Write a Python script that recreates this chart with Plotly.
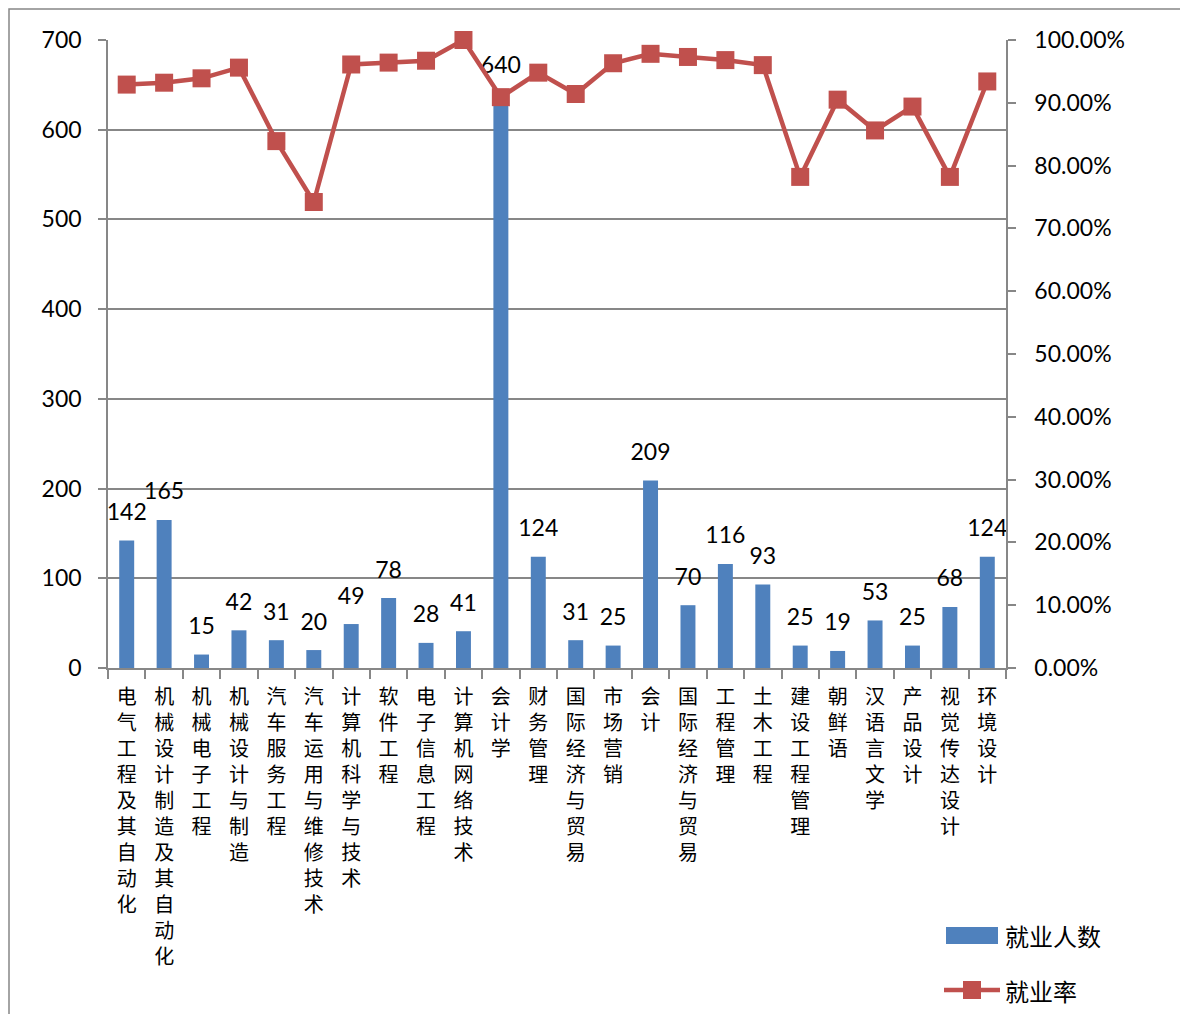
import plotly.graph_objects as go

categories = ["电气工程及其自动化", "机械设计制造及其自动化", "机械电子工程", "机械设计与制造",
              "汽车服务工程", "汽车运用与维修技术", "计算机科学与技术", "软件工程", "电子信息工程",
              "计算机网络技术", "会计学", "财务管理", "国际经济与贸易", "市场营销", "会计",
              "国际经济与贸易", "工程管理", "土木工程", "建设工程管理", "朝鲜语", "汉语言文学",
              "产品设计", "视觉传达设计", "环境设计"]
employed = [142, 165, 15, 42, 31, 20, 49, 78, 28, 41, 640, 124, 31, 25, 209, 70, 116, 93, 25, 19, 53, 25, 68, 124]
rate = [0.929, 0.932, 0.939, 0.956, 0.839, 0.742, 0.961, 0.964, 0.967, 1.000, 0.909, 0.948,
        0.914, 0.963, 0.978, 0.973, 0.968, 0.960, 0.782, 0.905, 0.856, 0.894, 0.782, 0.934]
left_ticks = [0, 100, 200, 300, 400, 500, 600, 700]
right_ticks = [0.0, 0.1, 0.2, 0.3, 0.4, 0.5, 0.6, 0.7, 0.8, 0.9, 1.0]
series_names = ["就业人数", "就业率"]

xpos = list(range(len(categories)))
ticktext = ["<br>".join(list(c)) for c in categories]

BLUE = "#4F81BD"
RED = "#C0504D"
GRAY = "#878787"
NUMFONT = "Lato, Noto Sans, sans-serif"
CJK = "Noto Sans CJK SC"

# plot area in page pixels: x 108..1006, y 40..668 (page has 8px body offset)
PX0, PX1, PY0, PY1 = 108, 1006, 40, 668


def px(x):
    return (x - PX0) / (PX1 - PX0)


def py(y):
    return (PY1 - y) / (PY1 - PY0)


fig = go.Figure()
fig.add_trace(go.Bar(
    x=xpos, y=employed, name=series_names[0], marker=dict(color=BLUE, line=dict(width=0)),
    width=0.4, showlegend=False,
))
fig.add_trace(go.Scatter(
    x=xpos, y=rate, name=series_names[1], yaxis="y2", mode="lines+markers",
    line=dict(color=RED, width=4.5), marker=dict(symbol="square", size=18, color=RED),
    cliponaxis=False, showlegend=False,
))
fig.add_trace(go.Scatter(
    x=xpos, y=employed, mode="markers+text", text=[str(v) for v in employed],
    textposition="top center", marker=dict(size=22, color="rgba(0,0,0,0)"),
    textfont=dict(family=NUMFONT, size=23, color="#000"), cliponaxis=False, showlegend=False,
    hoverinfo="skip",
))

shapes = [
    dict(type="rect", xref="paper", yref="paper", x0=px(9), y0=py(1030), x1=px(1200), y1=py(9),
         line=dict(color=GRAY, width=1.5), fillcolor="rgba(0,0,0,0)", layer="below"),
    # legend symbols
    dict(type="rect", xref="paper", yref="paper", x0=px(946), x1=px(998), y0=py(944), y1=py(927),
         line=dict(width=0), fillcolor=BLUE),
    dict(type="line", xref="paper", yref="paper", x0=px(944), x1=px(1000), y0=py(990), y1=py(990),
         line=dict(color=RED, width=4.5)),
    dict(type="rect", xref="paper", yref="paper", x0=px(963), x1=px(981), y0=py(999), y1=py(981),
         line=dict(width=0), fillcolor=RED),
]
annotations = [
    dict(xref="paper", yref="paper", x=px(1003), y=py(935), text=series_names[0], showarrow=False,
         xanchor="left", yanchor="middle", font=dict(family=CJK, size=24, color="#000")),
    dict(xref="paper", yref="paper", x=px(1003), y=py(990), text=series_names[1], showarrow=False,
         xanchor="left", yanchor="middle", font=dict(family=CJK, size=24, color="#000")),
]

fig.update_layout(
    width=1188, height=1014,
    margin=dict(l=PX0 - 8, r=1188 - (PX1 - 8), t=PY0 - 8, b=1014 - (PY1 - 8)),
    paper_bgcolor="white", plot_bgcolor="white",
    showlegend=False,
    font=dict(family=CJK, color="#000"),
    xaxis=dict(
        range=[-0.5, len(categories) - 0.5], tickmode="array", tickvals=xpos, ticktext=ticktext,
        ticks="", showgrid=False, zeroline=False, showline=True, linecolor=GRAY, linewidth=1.5,
        tickfont=dict(family=CJK, size=20, color="#000"), ticklabelstandoff=10,
        minor=dict(tickmode="linear", tick0=-0.5, dtick=1, ticks="outside", ticklen=9,
                   tickcolor=GRAY, tickwidth=1.5, showgrid=False),
    ),
    yaxis=dict(
        range=[0, 700], tickmode="array", tickvals=left_ticks, ticks="outside", ticklen=8,
        tickcolor=GRAY, tickwidth=1.5, showline=True, linecolor=GRAY, linewidth=1.5,
        showgrid=True, gridcolor=GRAY, gridwidth=1.5, zeroline=False,
        tickfont=dict(family=NUMFONT, size=23, color="#000"), ticklabelstandoff=12,
    ),
    yaxis2=dict(
        range=[0, 1], overlaying="y", side="right", tickmode="array", tickvals=right_ticks,
        tickformat=".2%", ticks="outside", ticklen=8, tickcolor=GRAY, tickwidth=1.5,
        showline=True, linecolor=GRAY, linewidth=1.5, showgrid=False, zeroline=False,
        tickfont=dict(family=NUMFONT, size=23, color="#000"), ticklabelstandoff=14,
    ),
    shapes=shapes,
    annotations=annotations,
)

fig.write_html("out.html")
